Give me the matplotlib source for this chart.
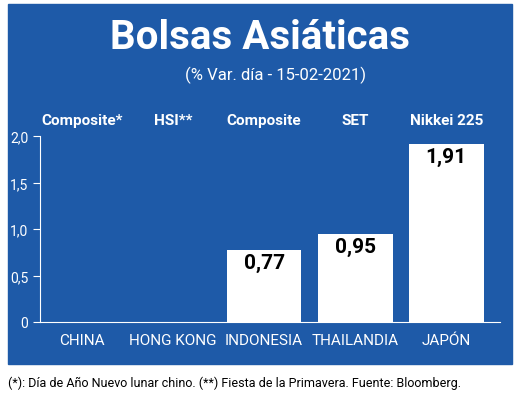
import matplotlib
matplotlib.use("Agg")
import matplotlib.pyplot as plt
from matplotlib.patches import Rectangle

plt.rcParams['font.family'] = ['Roboto', 'DejaVu Sans']

countries = ["CHINA", "HONG KONG", "INDONESIA", "THAILANDIA", "JAPÓN"]
indices = ["Composite*", "HSI**", "Composite", "SET", "Nikkei 225"]
values = [None, None, 0.77, 0.95, 1.91]
yticks = [0, 0.5, 1.0, 1.5, 2.0]
ytick_labels = ["0", "0,5", "1,0", "1,5", "2,0"]

blue = "#1e5aa8"
W, H = 520, 414
fig = plt.figure(figsize=(W / 100, H / 100), dpi=100)
fig.patches.append(Rectangle((8 / W, 1 - 365 / H), 504 / W, 360 / H,
                             transform=fig.transFigure, color=blue, zorder=-5))

fig.text(0.5, 1 - 38 / H, "Bolsas Asiáticas", color="white", fontsize=29,
         fontweight="bold", ha="center", va="center")
fig.text(0.53, 1 - 75 / H, "(% Var. día - 15-02-2021)", color="white",
         fontsize=12, ha="center", va="center")
fig.text(0.015, 1 - 383 / H,
         "(*): Día de Año Nuevo lunar chino. (**) Fiesta de la Primavera. Fuente: Bloomberg.",
         color="black", fontsize=9, ha="left", va="center")

ax = fig.add_axes([40 / W, 1 - 323 / H, 460 / W, 186 / H])
ax.set_facecolor("none")
for i, v in enumerate(values):
    if v is not None:
        ax.bar(i, v, width=0.82, color="white")
        ax.text(i, v - 0.03, f"{v:.2f}".replace(".", ","), ha="center", va="top",
                fontsize=15, fontweight="bold", color="black")
    ax.text(i, 2.17, indices[i], ha="center", va="center", color="white",
            fontsize=11, fontweight="bold")
ax.set_xlim(-0.46, 4.59)
ax.set_ylim(0, 2.0)
ax.set_xticks(range(len(countries)))
ax.set_xticklabels(countries, color="white", fontsize=11)
ax.set_yticks(yticks)
ax.set_yticklabels(ytick_labels, color="white", fontsize=10)
ax.tick_params(axis="x", length=0, pad=8)
ax.tick_params(axis="y", color="white", length=5, direction="out")
for s in ["top", "right"]:
    ax.spines[s].set_visible(False)
ax.spines["left"].set_color("white")
ax.spines["bottom"].set_color("white")

fig.savefig("out.png", dpi=100)
